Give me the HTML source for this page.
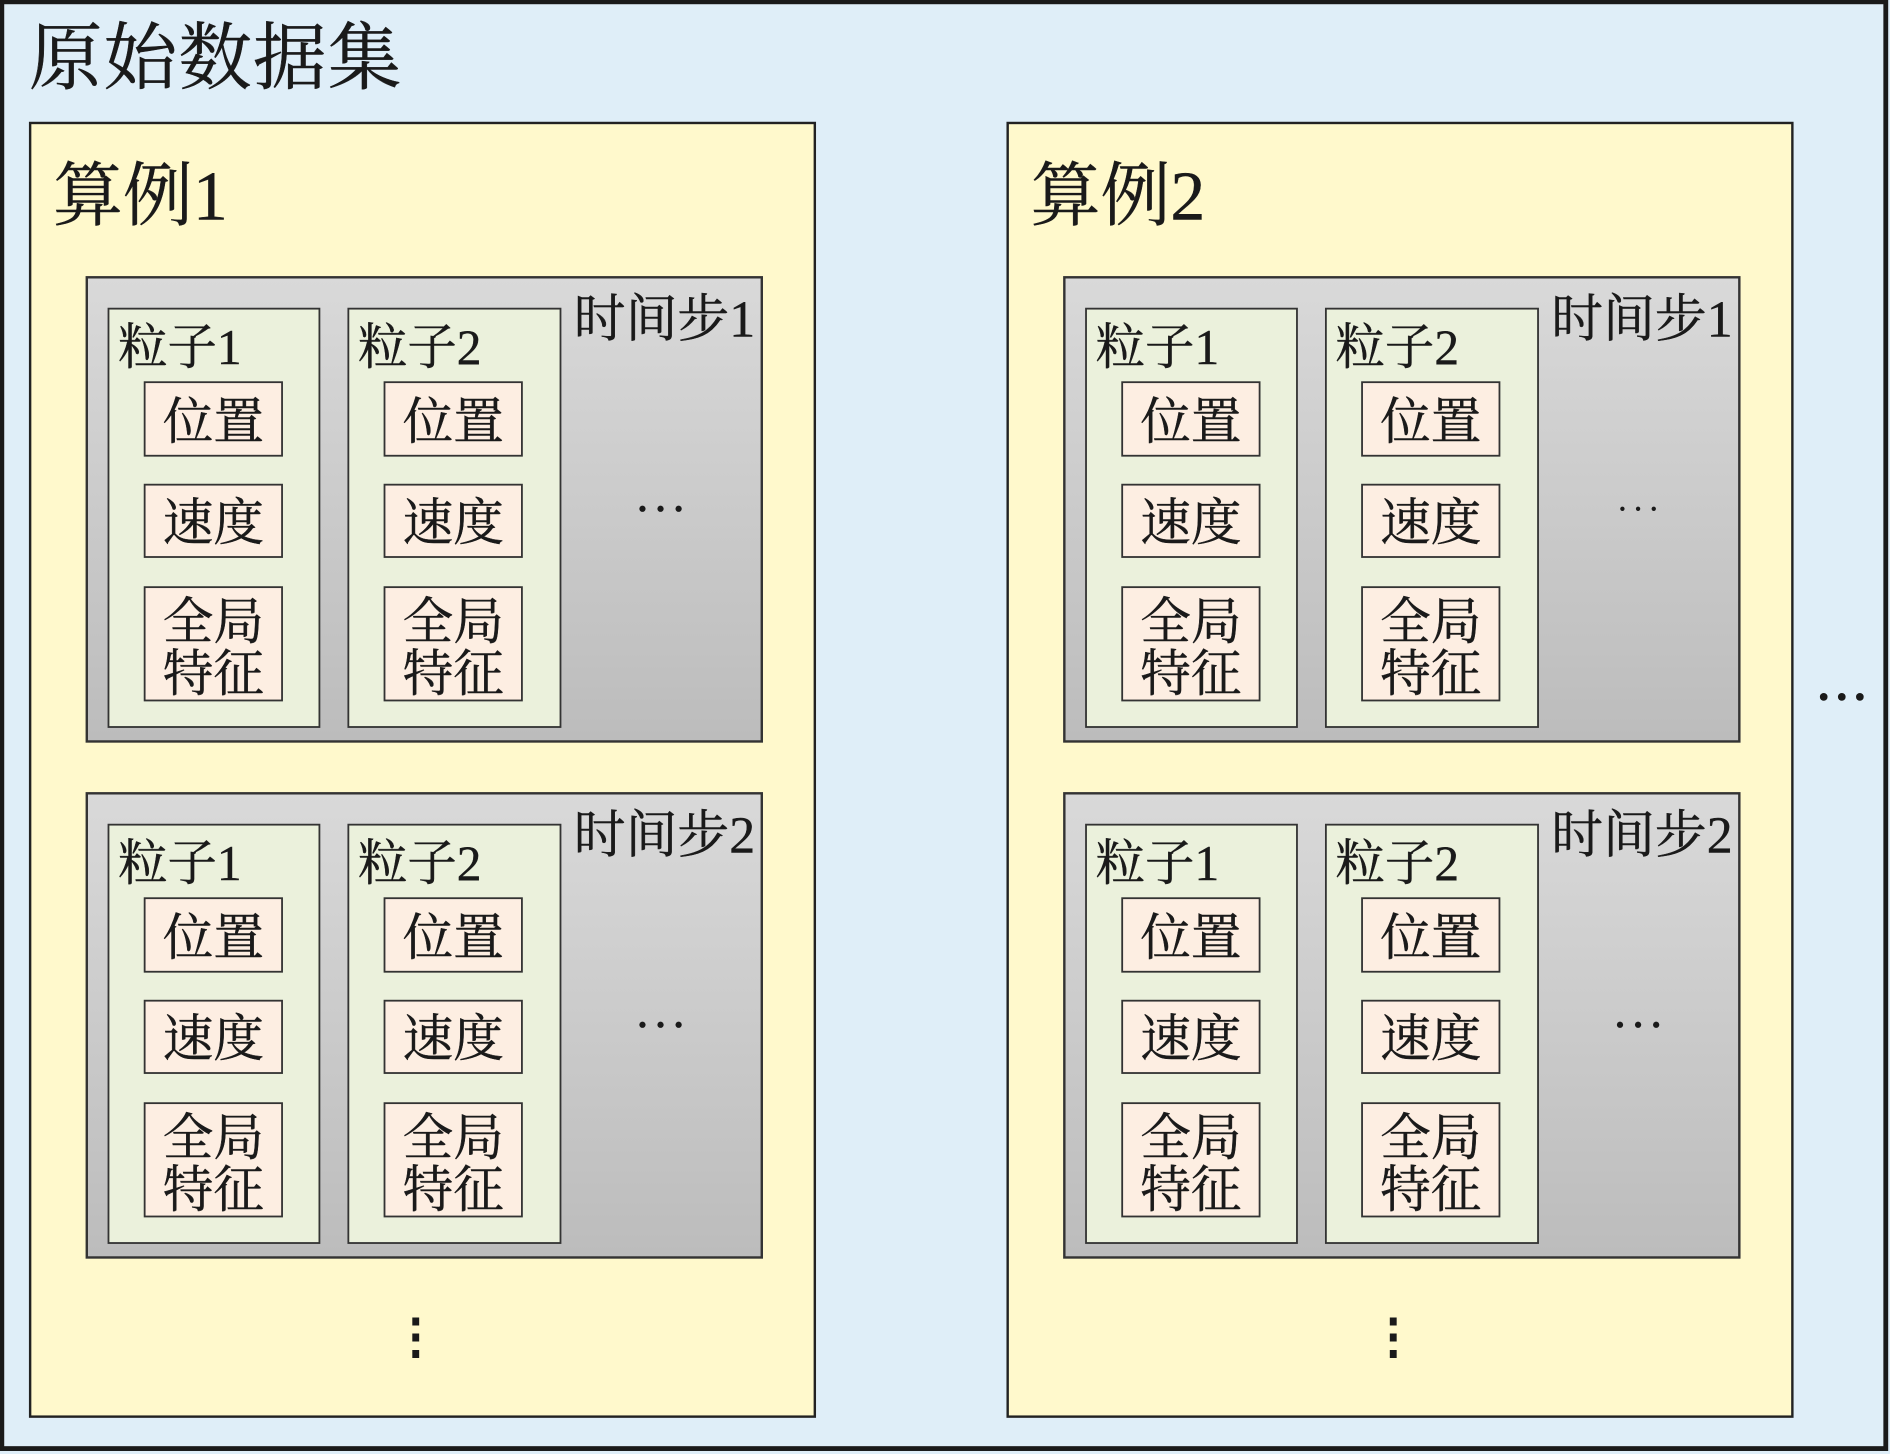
<!DOCTYPE html>
<html><head><meta charset="utf-8"><style>
html,body{margin:0;padding:0;background:#dfeef8;}
svg{display:block;}
text{font-family:"Liberation Serif","Noto Serif CJK SC",serif;fill:#1a1a1a;stroke:#1a1a1a;stroke-width:0.35;}
</style></head><body>
<svg width="1890" height="1454" viewBox="0 0 1568 1206" preserveAspectRatio="none" xmlns="http://www.w3.org/2000/svg">
<defs>
<linearGradient id="g" x1="0" y1="0" x2="0" y2="1"><stop offset="0" stop-color="#d9d9d9"/><stop offset="1" stop-color="#bcbcbc"/></linearGradient>
</defs>
<rect x="1.5" y="1.5" width="1563" height="1200" fill="#dfeef8" stroke="#1a1a1a" stroke-width="4"/>
<text x="24" y="69" font-size="61" letter-spacing="1">原始数据集</text>

<!-- Case 1 -->
<g>
<rect x="25" y="102" width="651" height="1073" fill="#fff9cc" stroke="#222" stroke-width="2"/>
<text x="44" y="182" font-size="58">算例1</text>
<text x="345" y="1122" font-size="40" text-anchor="middle" font-weight="bold">⋮</text>
<g>
<rect x="72" y="230" width="560" height="385" fill="url(#g)" stroke="#333" stroke-width="2"/>
<text x="476" y="279" font-size="43">时间步1</text>
<circle cx="533" cy="422" r="2.6" fill="#1a1a1a"/><circle cx="548" cy="422" r="2.6" fill="#1a1a1a"/><circle cx="563" cy="422" r="2.6" fill="#1a1a1a"/>
<rect x="90" y="256" width="175" height="347" fill="#ebf1dc" stroke="#333" stroke-width="1.5"/>
<text x="98" y="302" font-size="41">粒子1</text>
<rect x="120" y="317" width="114" height="61" fill="#fdeee2" stroke="#333" stroke-width="1.5"/><text x="177" y="364" font-size="42" text-anchor="middle">位置</text>
<rect x="120" y="402" width="114" height="60" fill="#fdeee2" stroke="#333" stroke-width="1.5"/><text x="177" y="448" font-size="42" text-anchor="middle">速度</text>
<rect x="120" y="487" width="114" height="94" fill="#fdeee2" stroke="#333" stroke-width="1.5"/><text x="177" y="530" font-size="42" text-anchor="middle">全局</text><text x="177" y="573" font-size="42" text-anchor="middle">特征</text>
<rect x="289" y="256" width="176" height="347" fill="#ebf1dc" stroke="#333" stroke-width="1.5"/>
<text x="297" y="302" font-size="41">粒子2</text>
<rect x="319" y="317" width="114" height="61" fill="#fdeee2" stroke="#333" stroke-width="1.5"/><text x="376" y="364" font-size="42" text-anchor="middle">位置</text>
<rect x="319" y="402" width="114" height="60" fill="#fdeee2" stroke="#333" stroke-width="1.5"/><text x="376" y="448" font-size="42" text-anchor="middle">速度</text>
<rect x="319" y="487" width="114" height="94" fill="#fdeee2" stroke="#333" stroke-width="1.5"/><text x="376" y="530" font-size="42" text-anchor="middle">全局</text><text x="376" y="573" font-size="42" text-anchor="middle">特征</text>
</g>
<g transform="translate(0,428)">
<rect x="72" y="230" width="560" height="385" fill="url(#g)" stroke="#333" stroke-width="2"/>
<text x="476" y="279" font-size="43">时间步2</text>
<circle cx="533" cy="422" r="2.6" fill="#1a1a1a"/><circle cx="548" cy="422" r="2.6" fill="#1a1a1a"/><circle cx="563" cy="422" r="2.6" fill="#1a1a1a"/>
<rect x="90" y="256" width="175" height="347" fill="#ebf1dc" stroke="#333" stroke-width="1.5"/>
<text x="98" y="302" font-size="41">粒子1</text>
<rect x="120" y="317" width="114" height="61" fill="#fdeee2" stroke="#333" stroke-width="1.5"/><text x="177" y="364" font-size="42" text-anchor="middle">位置</text>
<rect x="120" y="402" width="114" height="60" fill="#fdeee2" stroke="#333" stroke-width="1.5"/><text x="177" y="448" font-size="42" text-anchor="middle">速度</text>
<rect x="120" y="487" width="114" height="94" fill="#fdeee2" stroke="#333" stroke-width="1.5"/><text x="177" y="530" font-size="42" text-anchor="middle">全局</text><text x="177" y="573" font-size="42" text-anchor="middle">特征</text>
<rect x="289" y="256" width="176" height="347" fill="#ebf1dc" stroke="#333" stroke-width="1.5"/>
<text x="297" y="302" font-size="41">粒子2</text>
<rect x="319" y="317" width="114" height="61" fill="#fdeee2" stroke="#333" stroke-width="1.5"/><text x="376" y="364" font-size="42" text-anchor="middle">位置</text>
<rect x="319" y="402" width="114" height="60" fill="#fdeee2" stroke="#333" stroke-width="1.5"/><text x="376" y="448" font-size="42" text-anchor="middle">速度</text>
<rect x="319" y="487" width="114" height="94" fill="#fdeee2" stroke="#333" stroke-width="1.5"/><text x="376" y="530" font-size="42" text-anchor="middle">全局</text><text x="376" y="573" font-size="42" text-anchor="middle">特征</text>
</g>
</g>

<!-- Case 2 -->
<g transform="translate(811,0)">
<rect x="25" y="102" width="651" height="1073" fill="#fff9cc" stroke="#222" stroke-width="2"/>
<text x="44" y="182" font-size="58">算例2</text>
<text x="345" y="1122" font-size="40" text-anchor="middle" font-weight="bold">⋮</text>
<g>
<rect x="72" y="230" width="560" height="385" fill="url(#g)" stroke="#333" stroke-width="2"/>
<text x="476" y="279" font-size="43">时间步1</text>
<circle cx="535" cy="422" r="1.8" fill="#1a1a1a"/><circle cx="548" cy="422" r="1.8" fill="#1a1a1a"/><circle cx="561" cy="422" r="1.8" fill="#1a1a1a"/>
<rect x="90" y="256" width="175" height="347" fill="#ebf1dc" stroke="#333" stroke-width="1.5"/>
<text x="98" y="302" font-size="41">粒子1</text>
<rect x="120" y="317" width="114" height="61" fill="#fdeee2" stroke="#333" stroke-width="1.5"/><text x="177" y="364" font-size="42" text-anchor="middle">位置</text>
<rect x="120" y="402" width="114" height="60" fill="#fdeee2" stroke="#333" stroke-width="1.5"/><text x="177" y="448" font-size="42" text-anchor="middle">速度</text>
<rect x="120" y="487" width="114" height="94" fill="#fdeee2" stroke="#333" stroke-width="1.5"/><text x="177" y="530" font-size="42" text-anchor="middle">全局</text><text x="177" y="573" font-size="42" text-anchor="middle">特征</text>
<rect x="289" y="256" width="176" height="347" fill="#ebf1dc" stroke="#333" stroke-width="1.5"/>
<text x="297" y="302" font-size="41">粒子2</text>
<rect x="319" y="317" width="114" height="61" fill="#fdeee2" stroke="#333" stroke-width="1.5"/><text x="376" y="364" font-size="42" text-anchor="middle">位置</text>
<rect x="319" y="402" width="114" height="60" fill="#fdeee2" stroke="#333" stroke-width="1.5"/><text x="376" y="448" font-size="42" text-anchor="middle">速度</text>
<rect x="319" y="487" width="114" height="94" fill="#fdeee2" stroke="#333" stroke-width="1.5"/><text x="376" y="530" font-size="42" text-anchor="middle">全局</text><text x="376" y="573" font-size="42" text-anchor="middle">特征</text>
</g>
<g transform="translate(0,428)">
<rect x="72" y="230" width="560" height="385" fill="url(#g)" stroke="#333" stroke-width="2"/>
<text x="476" y="279" font-size="43">时间步2</text>
<circle cx="533" cy="422" r="2.6" fill="#1a1a1a"/><circle cx="548" cy="422" r="2.6" fill="#1a1a1a"/><circle cx="563" cy="422" r="2.6" fill="#1a1a1a"/>
<rect x="90" y="256" width="175" height="347" fill="#ebf1dc" stroke="#333" stroke-width="1.5"/>
<text x="98" y="302" font-size="41">粒子1</text>
<rect x="120" y="317" width="114" height="61" fill="#fdeee2" stroke="#333" stroke-width="1.5"/><text x="177" y="364" font-size="42" text-anchor="middle">位置</text>
<rect x="120" y="402" width="114" height="60" fill="#fdeee2" stroke="#333" stroke-width="1.5"/><text x="177" y="448" font-size="42" text-anchor="middle">速度</text>
<rect x="120" y="487" width="114" height="94" fill="#fdeee2" stroke="#333" stroke-width="1.5"/><text x="177" y="530" font-size="42" text-anchor="middle">全局</text><text x="177" y="573" font-size="42" text-anchor="middle">特征</text>
<rect x="289" y="256" width="176" height="347" fill="#ebf1dc" stroke="#333" stroke-width="1.5"/>
<text x="297" y="302" font-size="41">粒子2</text>
<rect x="319" y="317" width="114" height="61" fill="#fdeee2" stroke="#333" stroke-width="1.5"/><text x="376" y="364" font-size="42" text-anchor="middle">位置</text>
<rect x="319" y="402" width="114" height="60" fill="#fdeee2" stroke="#333" stroke-width="1.5"/><text x="376" y="448" font-size="42" text-anchor="middle">速度</text>
<rect x="319" y="487" width="114" height="94" fill="#fdeee2" stroke="#333" stroke-width="1.5"/><text x="376" y="530" font-size="42" text-anchor="middle">全局</text><text x="376" y="573" font-size="42" text-anchor="middle">特征</text>
</g>
</g>

<circle cx="1513" cy="578" r="3.2" fill="#1a1a1a"/><circle cx="1528" cy="578" r="3.2" fill="#1a1a1a"/><circle cx="1543" cy="578" r="3.2" fill="#1a1a1a"/>
</svg>
</body></html>
